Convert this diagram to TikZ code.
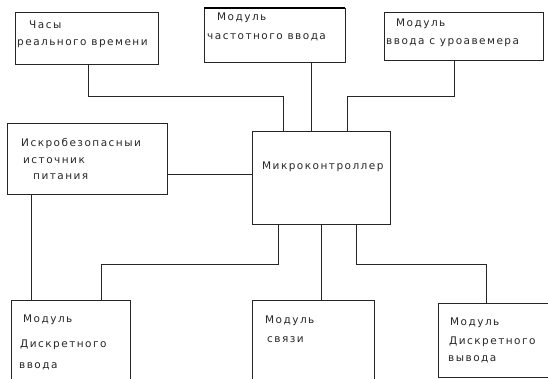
\documentclass[tikz,border=0pt]{standalone}
\usepackage{fontspec}
\newfontfamily\plotfont{DejaVu Sans}[LetterSpace=14]
\usepackage{tikz}
\usetikzlibrary{positioning}

\begin{document}
\begin{tikzpicture}[
  x=1pt, y=-1pt,
  font=\plotfont\fontsize{10.5}{12}\selectfont,
  blk/.style={draw=black!85, line width=.8pt, inner sep=0pt, outer sep=0pt, anchor=north west},
  lbl/.style={anchor=west, inner sep=0pt, text=black!85},
  wire/.style={draw=black!85, line width=.8pt}
]
\clip (0,0) rectangle (548,378);
\node[blk, minimum width=143pt, minimum height=52pt] (clock) at (15,12) {};
\node[blk, minimum width=141pt, minimum height=54pt] (freq)  at (204,8) {};
\node[blk, minimum width=159pt, minimum height=48pt] (level) at (384,12) {};
\node[blk, minimum width=160pt, minimum height=71pt] (power) at (7,123) {};
\node[blk, minimum width=138pt, minimum height=93pt] (mcu)   at (252,131) {};
\node[blk, minimum width=119pt, minimum height=100pt] (dinp) at (11,300) {};
\node[blk, minimum width=122pt, minimum height=100pt] (comm) at (252,300) {};
\node[blk, minimum width=130pt, minimum height=74pt] (dout)  at (438,303) {};
\draw[line width=1.8pt, black] (freq.north west) -- (freq.north east);
% labels
\node[lbl] (clock-a) at (29,25) {Часы};
\node[lbl] (clock-b) at (17,44) {реального времени};
\node[lbl] (freq-a) at (217,18) {Модуль};
\node[lbl] (freq-b) at (207,37) {частотного ввода};
\node[lbl] (level-a) at (396,24) {Модуль};
\node[lbl] (level-b) at (386,43) {ввода с уроавемера};
\node[lbl] (power-a) at (21,144) {Искробезопасныи};
\node[lbl] (power-b) at (23,161) {источник};
\node[lbl] (power-c) at (33,177) {питания};
\node[lbl] (mcu-a) at (262,167) {Микроконтроллер};
\node[lbl] (dinp-a) at (23,320) {Модуль};
\node[lbl] (dinp-b) at (20,345) {Дискретного};
\node[lbl] (dinp-c) at (19,366) {ввода};
\node[lbl] (comm-a) at (265,321) {Модуль};
\node[lbl] (comm-b) at (267,340) {связи};
\node[lbl] (dout-a) at (450,323) {Модуль};
\node[lbl] (dout-b) at (449,342) {Дискретного};
\node[lbl] (dout-c) at (448,359) {вывода};
% connections
\draw[wire] ([xshift=73pt]clock.south west) -- ++(0,32) -| ([xshift=31pt]mcu.north west);
\draw[wire] ([xshift=107pt]freq.south west) -- ([xshift=59pt]mcu.north west);
\draw[wire] ([xshift=70pt]level.south west) -- ++(0,36) -| ([xshift=95pt]mcu.north west);
\draw[wire] ([yshift=-51pt]power.north east) -- ([yshift=-51pt]power.north east -| mcu.west);
\draw[wire] ([xshift=24pt]power.south west) -- ([xshift=24pt]power.south west |- dinp.north);
\draw[wire] ([xshift=26pt]mcu.south west) -- ++(0,40) -| ([xshift=90pt]dinp.north west);
\draw[wire] ([xshift=69pt]mcu.south west) -- ([xshift=69pt]mcu.south west |- comm.north);
\draw[wire] ([xshift=104pt]mcu.south west) -- ++(0,40) -| ([xshift=48pt]dout.north west);
\end{tikzpicture}
\end{document}
